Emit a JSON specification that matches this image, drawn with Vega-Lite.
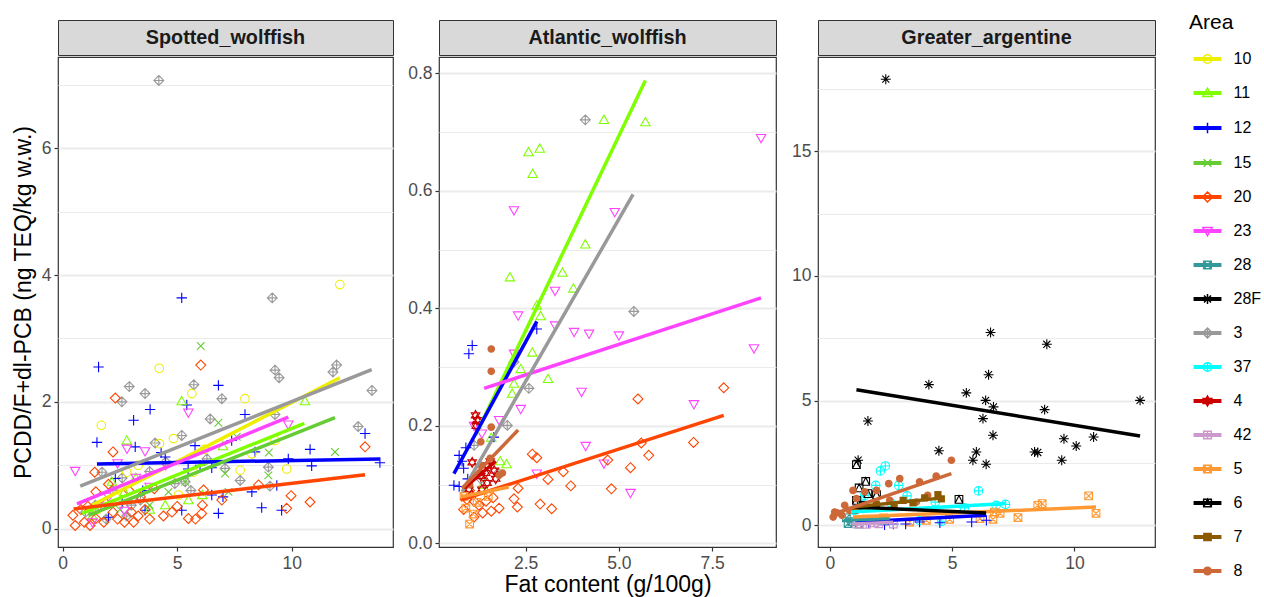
{
"$schema": "https://vega.github.io/schema/vega-lite/v6.json",
"background": "white",
"padding": {"left": 11, "top": 12, "right": 5, "bottom": 1},
"spacing": 10,
"resolve": {"scale": {"shape": "independent", "stroke": "independent", "fill": "independent"}},
"datasets": {
"p1": [
{"Area":"3","fat":4.2,"teq":7.07},{"Area":"3","fat":9.15,"teq":3.64},{"Area":"3","fat":11.96,"teq":2.58},{"Area":"3","fat":11.8,"teq":2.47},{"Area":"3","fat":9.27,"teq":2.5},{"Area":"3","fat":9.45,"teq":2.38},{"Area":"3","fat":13.5,"teq":2.18},{"Area":"3","fat":2.91,"teq":2.24},{"Area":"3","fat":3.6,"teq":2.13},{"Area":"3","fat":2.59,"teq":2.0},{"Area":"3","fat":5.73,"teq":2.27},{"Area":"3","fat":6.95,"teq":2.05},{"Area":"3","fat":6.44,"teq":1.73},{"Area":"3","fat":9.27,"teq":1.8},{"Area":"3","fat":12.9,"teq":1.61},{"Area":"3","fat":5.2,"teq":1.47},{"Area":"3","fat":4.04,"teq":1.35},{"Area":"3","fat":8.98,"teq":0.97},{"Area":"3","fat":7.75,"teq":0.76},{"Area":"3","fat":7.09,"teq":0.95},{"Area":"3","fat":4.9,"teq":0.71},{"Area":"3","fat":5.35,"teq":0.74},{"Area":"3","fat":9.05,"teq":0.67},{"Area":"3","fat":1.72,"teq":0.89},{"Area":"3","fat":1.0,"teq":0.26},{"Area":"3","fat":1.43,"teq":0.37},{"Area":"3","fat":3.0,"teq":0.37},{"Area":"3","fat":3.4,"teq":0.45},{"Area":"3","fat":2.2,"teq":0.6},{"Area":"3","fat":6.3,"teq":1.1},{"Area":"3","fat":5.6,"teq":0.6},{"Area":"3","fat":3.8,"teq":0.9},{"Area":"3","fat":2.6,"teq":0.8},{"Area":"3","fat":4.5,"teq":1.05},{"Area":"3","fat":1.9,"teq":0.15},{"Area":"3","fat":2.8,"teq":0.2},
{"Area":"12","fat":5.2,"teq":3.64},{"Area":"12","fat":1.57,"teq":2.55},{"Area":"12","fat":6.8,"teq":2.26},{"Area":"12","fat":5.42,"teq":1.95},{"Area":"12","fat":3.82,"teq":1.88},{"Area":"12","fat":3.1,"teq":1.71},{"Area":"12","fat":7.96,"teq":1.8},{"Area":"12","fat":1.5,"teq":1.36},{"Area":"12","fat":3.17,"teq":1.29},{"Area":"12","fat":10.8,"teq":1.25},{"Area":"12","fat":13.2,"teq":1.5},{"Area":"12","fat":13.85,"teq":1.04},{"Area":"12","fat":10.87,"teq":0.99},{"Area":"12","fat":9.85,"teq":1.1},{"Area":"12","fat":8.4,"teq":1.21},{"Area":"12","fat":7.38,"teq":1.39},{"Area":"12","fat":6.51,"teq":0.96},{"Area":"12","fat":2.3,"teq":0.79},{"Area":"12","fat":4.48,"teq":1.13},{"Area":"12","fat":8.26,"teq":0.58},{"Area":"12","fat":8.69,"teq":0.33},{"Area":"12","fat":9.56,"teq":0.29},{"Area":"12","fat":6.8,"teq":0.24},{"Area":"12","fat":5.2,"teq":0.29},{"Area":"12","fat":6.51,"teq":0.53},{"Area":"12","fat":9.35,"teq":0.68},{"Area":"12","fat":3.6,"teq":0.29},{"Area":"12","fat":2.0,"teq":0.18},{"Area":"12","fat":5.78,"teq":1.31},{"Area":"12","fat":5.48,"teq":0.94},{"Area":"12","fat":4.3,"teq":1.2},{"Area":"12","fat":6.0,"teq":1.0},{"Area":"12","fat":3.5,"teq":0.6},{"Area":"12","fat":2.6,"teq":0.4},{"Area":"12","fat":7.0,"teq":0.5},
{"Area":"10","fat":12.1,"teq":3.85},{"Area":"10","fat":4.22,"teq":2.53},{"Area":"10","fat":1.69,"teq":1.63},{"Area":"10","fat":5.64,"teq":2.13},{"Area":"10","fat":7.96,"teq":2.05},{"Area":"10","fat":4.84,"teq":1.42},{"Area":"10","fat":4.23,"teq":1.34},{"Area":"10","fat":7.75,"teq":0.92},{"Area":"10","fat":9.78,"teq":0.94},{"Area":"10","fat":8.26,"teq":1.18},{"Area":"10","fat":9.27,"teq":1.39},{"Area":"10","fat":2.8,"teq":0.89},{"Area":"10","fat":5.71,"teq":0.89},{"Area":"10","fat":5.06,"teq":0.53},{"Area":"10","fat":2.3,"teq":0.5},{"Area":"10","fat":3.3,"teq":1.0},{"Area":"10","fat":6.2,"teq":1.25},{"Area":"10","fat":1.5,"teq":0.3},
{"Area":"11","fat":5.2,"teq":2.01},{"Area":"11","fat":10.58,"teq":2.01},{"Area":"11","fat":2.8,"teq":1.39},{"Area":"11","fat":2.15,"teq":0.74},{"Area":"11","fat":4.48,"teq":0.37},{"Area":"11","fat":3.8,"teq":0.3},{"Area":"11","fat":5.49,"teq":0.45},{"Area":"11","fat":6.1,"teq":0.53},{"Area":"11","fat":2.7,"teq":0.58},{"Area":"11","fat":1.3,"teq":0.2},{"Area":"11","fat":7.0,"teq":1.3},{"Area":"11","fat":3.2,"teq":0.8},
{"Area":"15","fat":6.03,"teq":2.88},{"Area":"15","fat":6.8,"teq":1.67},{"Area":"15","fat":11.89,"teq":1.21},{"Area":"15","fat":7.09,"teq":0.87},{"Area":"15","fat":8.98,"teq":0.84},{"Area":"15","fat":7.24,"teq":0.58},{"Area":"15","fat":4.62,"teq":0.58},{"Area":"15","fat":3.8,"teq":0.37},{"Area":"15","fat":7.6,"teq":1.45},{"Area":"15","fat":5.35,"teq":0.74},{"Area":"15","fat":2.5,"teq":0.3},{"Area":"15","fat":9.0,"teq":1.2},
{"Area":"20","fat":6.03,"teq":2.58},{"Area":"20","fat":2.3,"teq":2.06},{"Area":"20","fat":2.2,"teq":1.21},{"Area":"20","fat":1.4,"teq":0.89},{"Area":"20","fat":13.2,"teq":1.29},{"Area":"20","fat":8.55,"teq":0.69},{"Area":"20","fat":9.97,"teq":0.52},{"Area":"20","fat":10.8,"teq":0.42},{"Area":"20","fat":9.78,"teq":0.32},{"Area":"20","fat":6.95,"teq":0.45},{"Area":"20","fat":6.15,"teq":0.61},{"Area":"20","fat":6.1,"teq":0.37},{"Area":"20","fat":5.49,"teq":0.16},{"Area":"20","fat":6.07,"teq":0.24},{"Area":"20","fat":4.77,"teq":0.26},{"Area":"20","fat":4.0,"teq":0.63},{"Area":"20","fat":1.45,"teq":0.58},{"Area":"20","fat":0.55,"teq":0.05},{"Area":"20","fat":0.45,"teq":0.21},{"Area":"20","fat":0.95,"teq":0.1},{"Area":"20","fat":1.45,"teq":0.16},{"Area":"20","fat":1.8,"teq":0.1},{"Area":"20","fat":2.2,"teq":0.26},{"Area":"20","fat":2.7,"teq":0.1},{"Area":"20","fat":3.1,"teq":0.1},{"Area":"20","fat":3.0,"teq":0.26},{"Area":"20","fat":3.6,"teq":0.3},{"Area":"20","fat":1.9,"teq":0.4},{"Area":"20","fat":3.4,"teq":0.5},{"Area":"20","fat":0.8,"teq":0.3},{"Area":"20","fat":1.2,"teq":0.05},{"Area":"20","fat":2.4,"teq":0.15},{"Area":"20","fat":4.4,"teq":0.2},{"Area":"20","fat":5.0,"teq":0.35},{"Area":"20","fat":5.8,"teq":0.15},{"Area":"20","fat":3.3,"teq":0.2},{"Area":"20","fat":2.0,"teq":0.7},{"Area":"20","fat":2.9,"teq":0.6},{"Area":"20","fat":1.1,"teq":0.35},{"Area":"20","fat":3.8,"teq":0.15},
{"Area":"23","fat":0.55,"teq":0.91},{"Area":"23","fat":5.49,"teq":1.83},{"Area":"23","fat":9.85,"teq":1.64},{"Area":"23","fat":2.81,"teq":1.26},{"Area":"23","fat":3.6,"teq":1.22},{"Area":"23","fat":2.4,"teq":1.03},{"Area":"23","fat":2.7,"teq":0.28},{"Area":"23","fat":1.3,"teq":0.1},{"Area":"23","fat":2.0,"teq":0.5},{"Area":"23","fat":3.8,"teq":0.66},{"Area":"23","fat":4.5,"teq":1.0},{"Area":"23","fat":1.6,"teq":0.35},{"Area":"23","fat":3.2,"teq":0.8}
],
"f1": [
{"Area":"10","fat":1.3,"teq":0.37,"fat_end":12.1,"teq_end":2.38},
{"Area":"11","fat":0.85,"teq":0.24,"fat_end":10.55,"teq_end":1.66},
{"Area":"12","fat":1.5,"teq":1.02,"fat_end":13.85,"teq_end":1.1},
{"Area":"15","fat":1.13,"teq":0.21,"fat_end":11.89,"teq_end":1.75},
{"Area":"20","fat":0.48,"teq":0.31,"fat_end":13.2,"teq_end":0.85},
{"Area":"23","fat":0.63,"teq":0.39,"fat_end":9.85,"teq_end":1.76},
{"Area":"3","fat":0.77,"teq":0.67,"fat_end":13.49,"teq_end":2.51}
],
"p2": [
{"Area":"11","fat":4.6,"teq":0.721},{"Area":"11","fat":5.71,"teq":0.717},{"Area":"11","fat":2.58,"teq":0.666},{"Area":"11","fat":2.88,"teq":0.672},{"Area":"11","fat":2.69,"teq":0.629},{"Area":"11","fat":4.1,"teq":0.509},{"Area":"11","fat":2.08,"teq":0.453},{"Area":"11","fat":3.49,"teq":0.461},{"Area":"11","fat":3.78,"teq":0.434},{"Area":"11","fat":2.8,"teq":0.405},{"Area":"11","fat":2.9,"teq":0.387},{"Area":"11","fat":2.68,"teq":0.325},{"Area":"11","fat":2.37,"teq":0.297},{"Area":"11","fat":2.19,"teq":0.272},{"Area":"11","fat":2.14,"teq":0.255},{"Area":"11","fat":3.1,"teq":0.28},{"Area":"11","fat":1.58,"teq":0.18},{"Area":"11","fat":1.99,"teq":0.135},{"Area":"11","fat":1.82,"teq":0.14},{"Area":"11","fat":1.35,"teq":0.1},
{"Area":"3","fat":4.1,"teq":0.721},{"Area":"3","fat":5.4,"teq":0.395},{"Area":"3","fat":2.59,"teq":0.264},{"Area":"3","fat":2.01,"teq":0.201},{"Area":"3","fat":2.19,"teq":0.309},{"Area":"3","fat":1.12,"teq":0.167},{"Area":"3","fat":1.77,"teq":0.12},{"Area":"3","fat":1.3,"teq":0.11},
{"Area":"12","fat":1.07,"teq":0.337},{"Area":"12","fat":0.98,"teq":0.323},{"Area":"12","fat":2.8,"teq":0.365},{"Area":"12","fat":1.65,"teq":0.181},{"Area":"12","fat":0.9,"teq":0.163},{"Area":"12","fat":0.72,"teq":0.15},{"Area":"12","fat":0.84,"teq":0.128},{"Area":"12","fat":0.58,"teq":0.099},{"Area":"12","fat":0.72,"teq":0.097},{"Area":"12","fat":0.8,"teq":0.14},{"Area":"12","fat":0.95,"teq":0.11},
{"Area":"23","fat":8.81,"teq":0.69},{"Area":"23","fat":2.19,"teq":0.567},{"Area":"23","fat":4.89,"teq":0.564},{"Area":"23","fat":3.29,"teq":0.43},{"Area":"23","fat":2.3,"teq":0.388},{"Area":"23","fat":3.29,"teq":0.371},{"Area":"23","fat":3.8,"teq":0.36},{"Area":"23","fat":4.2,"teq":0.357},{"Area":"23","fat":5.0,"teq":0.354},{"Area":"23","fat":8.62,"teq":0.332},{"Area":"23","fat":2.19,"teq":0.323},{"Area":"23","fat":4.0,"teq":0.258},{"Area":"23","fat":7.01,"teq":0.237},{"Area":"23","fat":2.37,"teq":0.229},{"Area":"23","fat":1.79,"teq":0.21},{"Area":"23","fat":4.11,"teq":0.166},{"Area":"23","fat":4.6,"teq":0.136},{"Area":"23","fat":2.8,"teq":0.119},{"Area":"23","fat":5.31,"teq":0.086},{"Area":"23","fat":1.12,"teq":0.2},{"Area":"23","fat":1.33,"teq":0.187},
{"Area":"20","fat":7.81,"teq":0.265},{"Area":"20","fat":5.51,"teq":0.246},{"Area":"20","fat":7.0,"teq":0.172},{"Area":"20","fat":5.6,"teq":0.171},{"Area":"20","fat":5.8,"teq":0.15},{"Area":"20","fat":5.31,"teq":0.129},{"Area":"20","fat":4.7,"teq":0.142},{"Area":"20","fat":4.8,"teq":0.093},{"Area":"20","fat":2.68,"teq":0.152},{"Area":"20","fat":2.8,"teq":0.146},{"Area":"20","fat":3.51,"teq":0.122},{"Area":"20","fat":3.1,"teq":0.109},{"Area":"20","fat":3.71,"teq":0.098},{"Area":"20","fat":2.3,"teq":0.094},{"Area":"20","fat":2.89,"teq":0.067},{"Area":"20","fat":3.2,"teq":0.059},{"Area":"20","fat":2.19,"teq":0.076},{"Area":"20","fat":2.28,"teq":0.062},{"Area":"20","fat":1.79,"teq":0.06},{"Area":"20","fat":1.58,"teq":0.055},{"Area":"20","fat":1.35,"teq":0.052},{"Area":"20","fat":1.12,"teq":0.045},{"Area":"20","fat":0.84,"teq":0.058},{"Area":"20","fat":0.93,"teq":0.075},{"Area":"20","fat":1.12,"teq":0.072},{"Area":"20","fat":1.44,"teq":0.072},{"Area":"20","fat":1.63,"teq":0.078},{"Area":"20","fat":1.0,"teq":0.09},{"Area":"20","fat":1.25,"teq":0.065},
{"Area":"4","fat":1.16,"teq":0.218},{"Area":"4","fat":1.2,"teq":0.21},{"Area":"4","fat":1.07,"teq":0.138},{"Area":"4","fat":1.47,"teq":0.133},{"Area":"4","fat":1.43,"teq":0.12},{"Area":"4","fat":1.66,"teq":0.124},{"Area":"4","fat":1.3,"teq":0.115},{"Area":"4","fat":1.7,"teq":0.11},{"Area":"4","fat":1.47,"teq":0.103},{"Area":"4","fat":0.98,"teq":0.092},{"Area":"4","fat":1.33,"teq":0.092},{"Area":"4","fat":1.18,"teq":0.2},{"Area":"4","fat":1.55,"teq":0.14},
{"Area":"5","fat":1.0,"teq":0.033},{"Area":"5","fat":0.9,"teq":0.06},{"Area":"5","fat":1.2,"teq":0.07},{"Area":"5","fat":1.5,"teq":0.08},{"Area":"5","fat":1.1,"teq":0.05},{"Area":"5","fat":0.85,"teq":0.08},
{"Area":"8","fat":1.58,"teq":0.331},{"Area":"8","fat":1.58,"teq":0.293},{"Area":"8","fat":1.58,"teq":0.198},{"Area":"8","fat":1.3,"teq":0.173},{"Area":"8","fat":1.88,"teq":0.12},{"Area":"8","fat":1.79,"teq":0.116},{"Area":"8","fat":1.3,"teq":0.133},{"Area":"8","fat":1.55,"teq":0.145},{"Area":"8","fat":1.0,"teq":0.1}
],
"f2": [
{"Area":"11","fat":1.16,"teq":0.184,"fat_end":5.71,"teq_end":0.788},
{"Area":"12","fat":0.58,"teq":0.119,"fat_end":2.8,"teq_end":0.378},
{"Area":"20","fat":0.76,"teq":0.074,"fat_end":7.81,"teq_end":0.218},
{"Area":"23","fat":1.39,"teq":0.264,"fat_end":8.81,"teq_end":0.418},
{"Area":"3","fat":0.8,"teq":0.088,"fat_end":5.38,"teq_end":0.594},
{"Area":"4","fat":0.85,"teq":0.094,"fat_end":1.7,"teq_end":0.14},
{"Area":"5","fat":0.76,"teq":0.079,"fat_end":2.05,"teq_end":0.096},
{"Area":"8","fat":0.8,"teq":0.094,"fat_end":2.3,"teq_end":0.193}
],
"p3": [
{"Area":"28F","fat":2.29,"teq":17.89},{"Area":"28F","fat":6.57,"teq":7.73},{"Area":"28F","fat":8.87,"teq":7.26},{"Area":"28F","fat":6.49,"teq":6.04},{"Area":"28F","fat":4.05,"teq":5.64},{"Area":"28F","fat":5.58,"teq":5.31},{"Area":"28F","fat":6.37,"teq":5.01},{"Area":"28F","fat":6.69,"teq":4.75},{"Area":"28F","fat":12.68,"teq":5.01},{"Area":"28F","fat":8.78,"teq":4.64},{"Area":"28F","fat":1.56,"teq":4.18},{"Area":"28F","fat":6.26,"teq":4.28},{"Area":"28F","fat":6.67,"teq":3.61},{"Area":"28F","fat":9.57,"teq":3.47},{"Area":"28F","fat":10.78,"teq":3.54},{"Area":"28F","fat":10.07,"teq":3.18},{"Area":"28F","fat":4.46,"teq":2.99},{"Area":"28F","fat":8.37,"teq":2.94},{"Area":"28F","fat":8.5,"teq":2.92},{"Area":"28F","fat":5.99,"teq":2.94},{"Area":"28F","fat":5.85,"teq":2.61},{"Area":"28F","fat":9.48,"teq":2.61},{"Area":"28F","fat":6.39,"teq":2.45},{"Area":"28F","fat":1.16,"teq":2.61},
{"Area":"8","fat":4.97,"teq":2.61},{"Area":"8","fat":4.35,"teq":1.97},{"Area":"8","fat":3.67,"teq":1.74},{"Area":"8","fat":2.86,"teq":1.87},{"Area":"8","fat":2.41,"teq":1.67},{"Area":"8","fat":1.91,"teq":1.4},{"Area":"8","fat":2.45,"teq":1.0},{"Area":"8","fat":0.95,"teq":1.4},{"Area":"8","fat":0.61,"teq":0.8},{"Area":"8","fat":0.2,"teq":0.53},{"Area":"8","fat":0.14,"teq":0.33},{"Area":"8","fat":0.5,"teq":0.4},{"Area":"8","fat":1.09,"teq":1.07},{"Area":"8","fat":1.43,"teq":1.34},{"Area":"8","fat":3.54,"teq":0.93},{"Area":"8","fat":4.0,"teq":1.2},{"Area":"8","fat":0.3,"teq":0.5},{"Area":"8","fat":0.8,"teq":0.6},
{"Area":"37","fat":2.27,"teq":2.38},{"Area":"37","fat":2.07,"teq":2.18},{"Area":"37","fat":6.08,"teq":1.38},{"Area":"37","fat":1.88,"teq":1.6},{"Area":"37","fat":2.82,"teq":1.6},{"Area":"37","fat":1.43,"teq":1.2},{"Area":"37","fat":3.16,"teq":1.18},{"Area":"37","fat":1.3,"teq":0.98},{"Area":"37","fat":4.31,"teq":0.93},{"Area":"37","fat":2.5,"teq":0.9},{"Area":"37","fat":7.18,"teq":0.84},{"Area":"37","fat":6.8,"teq":0.8},{"Area":"37","fat":4.58,"teq":0.16},{"Area":"37","fat":3.67,"teq":0.2},{"Area":"37","fat":1.0,"teq":0.6},{"Area":"37","fat":5.5,"teq":0.7},
{"Area":"5","fat":10.58,"teq":1.18},{"Area":"5","fat":10.88,"teq":0.48},{"Area":"5","fat":8.68,"teq":0.87},{"Area":"5","fat":8.5,"teq":0.8},{"Area":"5","fat":7.69,"teq":0.31},{"Area":"5","fat":6.67,"teq":0.24},{"Area":"5","fat":6.73,"teq":0.53},{"Area":"5","fat":6.96,"teq":0.48},{"Area":"5","fat":6.14,"teq":0.27},{"Area":"5","fat":4.9,"teq":0.24},{"Area":"5","fat":3.95,"teq":0.2},{"Area":"5","fat":3.27,"teq":0.13},{"Area":"5","fat":2.2,"teq":0.3},{"Area":"5","fat":1.5,"teq":0.25},
{"Area":"7","fat":4.42,"teq":1.23},{"Area":"7","fat":3.88,"teq":1.1},{"Area":"7","fat":4.56,"teq":1.06},{"Area":"7","fat":3.4,"teq":0.9},{"Area":"7","fat":2.63,"teq":0.8},{"Area":"7","fat":1.9,"teq":0.85},{"Area":"7","fat":1.03,"teq":0.6},{"Area":"7","fat":1.5,"teq":0.7},{"Area":"7","fat":3.0,"teq":1.0},
{"Area":"6","fat":1.09,"teq":2.43},{"Area":"6","fat":1.47,"teq":1.76},{"Area":"6","fat":1.2,"teq":1.5},{"Area":"6","fat":1.09,"teq":1.0},{"Area":"6","fat":1.91,"teq":1.23},{"Area":"6","fat":5.28,"teq":1.04},{"Area":"6","fat":1.56,"teq":1.27},{"Area":"6","fat":1.3,"teq":0.8},
{"Area":"12","fat":2.24,"teq":0.02},{"Area":"12","fat":2.6,"teq":0.05},{"Area":"12","fat":3.67,"teq":0.13},{"Area":"12","fat":5.8,"teq":0.13},{"Area":"12","fat":6.4,"teq":0.2},{"Area":"12","fat":1.6,"teq":0.1},{"Area":"12","fat":4.5,"teq":0.1},{"Area":"12","fat":3.1,"teq":0.05},
{"Area":"28","fat":0.75,"teq":0.07},{"Area":"28","fat":0.68,"teq":0.3},{"Area":"28","fat":1.2,"teq":0.05},{"Area":"28","fat":0.9,"teq":0.15},{"Area":"28","fat":2.2,"teq":0.2},
{"Area":"42","fat":1.1,"teq":0.05},{"Area":"42","fat":1.5,"teq":0.04},{"Area":"42","fat":2.0,"teq":0.06},{"Area":"42","fat":2.6,"teq":0.05},{"Area":"42","fat":1.8,"teq":0.1}
],
"f3": [
{"Area":"12","fat":1.09,"teq":0.13,"fat_end":6.39,"teq_end":0.4},
{"Area":"28","fat":0.61,"teq":0.2,"fat_end":2.45,"teq_end":0.27},
{"Area":"37","fat":0.87,"teq":0.53,"fat_end":7.21,"teq_end":0.87},
{"Area":"42","fat":1.0,"teq":0.05,"fat_end":2.6,"teq_end":0.12},
{"Area":"5","fat":0.95,"teq":0.33,"fat_end":10.88,"teq_end":0.73},
{"Area":"6","fat":1.02,"teq":0.73,"fat_end":6.39,"teq_end":0.49},
{"Area":"7","fat":0.95,"teq":0.73,"fat_end":4.63,"teq_end":1.1},
{"Area":"8","fat":0.2,"teq":0.47,"fat_end":4.97,"teq_end":2.07},
{"Area":"28F","fat":1.09,"teq":5.44,"fat_end":12.68,"teq_end":3.58}
]
},
"hconcat": [
{"spacing": 13, "hconcat": [
{"spacing": 0, "vconcat": [
 {"width": 335, "height": 35, "data": {"values": [{"sp": "Spotted_wolffish"}]}, "mark": {"type": "text", "fontSize": 19.8, "fontWeight": "bold", "color": "#1a1a1a", "align": "center", "baseline": "middle"}, "encoding": {"text": {"field": "sp", "type": "nominal"}}, "view": {"fill": "#d9d9d9", "stroke": "#333333"}},
 {"width": 335, "height": 490, "layer": [
  {"data": {"name": "p1"}, "mark": {"type": "point", "filled": false, "size": 81, "strokeWidth": 1.1, "opacity": 1},
   "encoding": {
    "x": {"field": "fat", "type": "quantitative", "scale": {"domain": [-0.2, 14.42], "nice": false, "zero": false}, "axis": {"values": [0, 5, 10], "format": "d", "title": null}},
    "y": {"field": "teq", "type": "quantitative", "scale": {"domain": [-0.29, 7.44], "nice": false, "zero": false}, "axis": {"title": "PCDD/F+dl-PCB (ng TEQ/kg w.w.)", "titlePadding": 6, "format": "d", "values": [0,1,2,3,4,5,6,7], "grid": true, "gridColor": "#ebebeb", "labelExpr": "datum.value % 2 === 0 ? datum.label : ''", "tickOpacity": {"condition": {"test": "datum.value % 2 === 0", "value": 1}, "value": 0}, "gridWidth": {"condition": {"test": "datum.value % 2 === 0", "value": 2}, "value": 1}}},
    "color": {"field": "Area", "type": "nominal", "legend": null,
      "scale": {"domain": ["10","11","12","15","20","23","28","28F","3","37","4","42","5","6","7","8"], "range": ["#EEEE00","#7FFF00","#0000FF","#66CC33","#FF4500","#FF44FF","#339999","#000000","#999999","#00FFFF","#CC0000","#CC99CC","#FF9933","#000000","#8B5A00","#CD6839"]}},
    "shape": {"field": "Area", "type": "nominal", "legend": null,
      "scale": {"domain": ["10","11","12","15","20","23","28","28F","3","37","4","42","5","6","7","8"], "range": [
       "M-0.95,0A0.95,0.95 0 1,0 0.95,0A0.95,0.95 0 1,0 -0.95,0Z",
       "M0,-1.05L1.05,0.8L-1.05,0.8Z",
       "M-1.15,0H1.15M0,-1.15V1.15",
       "M-0.85,-0.85L0.85,0.85M-0.85,0.85L0.85,-0.85",
       "M0,-1.1L1.1,0L0,1.1L-1.1,0Z",
       "M0,1.05L1.05,-0.8L-1.05,-0.8Z",
       "M-0.85,-0.85H0.85V0.85H-0.85ZM-0.85,-0.85L0.85,0.85M-0.85,0.85L0.85,-0.85",
       "M-1.1,0H1.1M0,-1.1V1.1M-0.78,-0.78L0.78,0.78M-0.78,0.78L0.78,-0.78",
       "M0,-1.1L1.1,0L0,1.1L-1.1,0ZM-1.1,0H1.1M0,-1.1V1.1",
       "M-0.95,0A0.95,0.95 0 1,0 0.95,0A0.95,0.95 0 1,0 -0.95,0ZM-0.95,0H0.95M0,-0.95V0.95",
       "M0,-1.1L0.95,0.55L-0.95,0.55ZM0,1.1L0.95,-0.55L-0.95,-0.55Z",
       "M-0.85,-0.85H0.85V0.85H-0.85ZM-0.85,0H0.85M0,-0.85V0.85",
       "M-0.85,-0.85H0.85V0.85H-0.85ZM-0.85,-0.85L0.85,0.85M-0.85,0.85L0.85,-0.85",
       "M-0.85,-0.85H0.85V0.85H-0.85ZM-0.85,0.85L0,-0.85L0.85,0.85",
       "M-0.8,-0.8H0.8V0.8H-0.8Z",
       "M-0.85,0A0.85,0.85 0 1,0 0.85,0A0.85,0.85 0 1,0 -0.85,0Z"]}}
   }},
  {"data": {"name": "f1"}, "mark": {"type": "rule", "strokeWidth": 3.5},
   "encoding": {
    "x": {"field": "fat", "type": "quantitative"}, "y": {"field": "teq", "type": "quantitative"},
    "x2": {"field": "fat_end"}, "y2": {"field": "teq_end"},
    "color": {"field": "Area", "type": "nominal", "legend": null}
   }}
 ]}
]},
{"spacing": 0, "vconcat": [
 {"width": 337, "height": 35, "data": {"values": [{"sp": "Atlantic_wolffish"}]}, "mark": {"type": "text", "fontSize": 19.8, "fontWeight": "bold", "color": "#1a1a1a", "align": "center", "baseline": "middle"}, "encoding": {"text": {"field": "sp", "type": "nominal"}}, "view": {"fill": "#d9d9d9", "stroke": "#333333"}},
 {"width": 337, "height": 490, "layer": [
  {"data": {"name": "p2"}, "transform": [{"filter": {"not": {"field": "Area", "oneOf": ["7", "8"]}}}], "mark": {"type": "point", "filled": false, "size": 81, "strokeWidth": 1.1, "opacity": 1},
   "encoding": {
    "x": {"field": "fat", "type": "quantitative", "scale": {"domain": [0.18, 9.21], "nice": false, "zero": false}, "axis": {"values": [2.5, 5, 7.5], "format": ".1f", "title": "Fat content (g/100g)", "titlePadding": 2}},
    "y": {"field": "teq", "type": "quantitative", "scale": {"domain": [-0.006, 0.828], "nice": false, "zero": false}, "axis": {"title": null, "format": ".1f", "values": [0,0.1,0.2,0.3,0.4,0.5,0.6,0.7,0.8], "grid": true, "gridColor": "#ebebeb", "labelExpr": "abs(datum.value*5 - round(datum.value*5)) < 0.01 ? datum.label : ''", "tickOpacity": {"condition": {"test": "abs(datum.value*5 - round(datum.value*5)) < 0.01", "value": 1}, "value": 0}, "gridWidth": {"condition": {"test": "abs(datum.value*5 - round(datum.value*5)) < 0.01", "value": 2}, "value": 1}}},
    "color": {"field": "Area", "type": "nominal", "legend": null},
    "shape": {"field": "Area", "type": "nominal", "legend": null}
   }},
  {"data": {"name": "p2"}, "transform": [{"filter": {"field": "Area", "equal": "8"}}], "mark": {"type": "point", "filled": true, "size": 81, "strokeWidth": 0, "opacity": 1, "color": "#CD6839", "shape": "M-0.85,0A0.85,0.85 0 1,0 0.85,0A0.85,0.85 0 1,0 -0.85,0Z"},
   "encoding": {
    "x": {"field": "fat", "type": "quantitative"}, "y": {"field": "teq", "type": "quantitative"}
   }},
  {"data": {"name": "f2"}, "mark": {"type": "rule", "strokeWidth": 3.5},
   "encoding": {
    "x": {"field": "fat", "type": "quantitative"}, "y": {"field": "teq", "type": "quantitative"},
    "x2": {"field": "fat_end"}, "y2": {"field": "teq_end"},
    "color": {"field": "Area", "type": "nominal", "legend": null}
   }}
 ]}
]},
{"spacing": 0, "vconcat": [
 {"width": 337, "height": 35, "data": {"values": [{"sp": "Greater_argentine"}]}, "mark": {"type": "text", "fontSize": 19.8, "fontWeight": "bold", "color": "#1a1a1a", "align": "center", "baseline": "middle"}, "encoding": {"text": {"field": "sp", "type": "nominal"}}, "view": {"fill": "#d9d9d9", "stroke": "#333333"}},
 {"width": 337, "height": 490, "layer": [
  {"data": {"name": "p3"}, "transform": [{"filter": {"not": {"field": "Area", "oneOf": ["7", "8"]}}}], "mark": {"type": "point", "filled": false, "size": 81, "strokeWidth": 1.1, "opacity": 1},
   "encoding": {
    "x": {"field": "fat", "type": "quantitative", "scale": {"domain": [-0.48, 13.29], "nice": false, "zero": false}, "axis": {"values": [0, 5, 10], "format": "d", "title": null}},
    "y": {"field": "teq", "type": "quantitative", "scale": {"domain": [-0.87, 18.78], "nice": false, "zero": false}, "axis": {"title": null, "values": [0,2.5,5,7.5,10,12.5,15,17.5], "grid": true, "gridColor": "#ebebeb", "labelExpr": "datum.value % 5 === 0 ? datum.label : ''", "tickOpacity": {"condition": {"test": "datum.value % 5 === 0", "value": 1}, "value": 0}, "gridWidth": {"condition": {"test": "datum.value % 5 === 0", "value": 2}, "value": 1}}},
    "color": {"field": "Area", "type": "nominal", "legend": null},
    "shape": {"field": "Area", "type": "nominal", "legend": null}
   }},
  {"data": {"name": "p3"}, "transform": [{"filter": {"field": "Area", "equal": "8"}}], "mark": {"type": "point", "filled": true, "size": 81, "strokeWidth": 0, "opacity": 1, "color": "#CD6839", "shape": "M-0.85,0A0.85,0.85 0 1,0 0.85,0A0.85,0.85 0 1,0 -0.85,0Z"},
   "encoding": {
    "x": {"field": "fat", "type": "quantitative"}, "y": {"field": "teq", "type": "quantitative"}
   }},
  {"data": {"name": "p3"}, "transform": [{"filter": {"field": "Area", "equal": "7"}}], "mark": {"type": "point", "filled": true, "size": 81, "strokeWidth": 0, "opacity": 1, "color": "#8B5A00", "shape": "M-0.8,-0.8H0.8V0.8H-0.8Z"},
   "encoding": {
    "x": {"field": "fat", "type": "quantitative"}, "y": {"field": "teq", "type": "quantitative"}
   }},
  {"data": {"name": "f3"}, "mark": {"type": "rule", "strokeWidth": 3.5},
   "encoding": {
    "x": {"field": "fat", "type": "quantitative"}, "y": {"field": "teq", "type": "quantitative"},
    "x2": {"field": "fat_end"}, "y2": {"field": "teq_end"},
    "color": {"field": "Area", "type": "nominal", "legend": null}
   }}
 ]}
]}
]},
{"width": 1, "height": 1, "view": {"stroke": null}, "data": {"name": "f1"},
 "mark": {"type": "point", "filled": false, "size": 81, "strokeWidth": 1.5, "opacity": 0, "clip": true},
 "encoding": {
  "x": {"field": "fat", "type": "quantitative", "axis": null},
  "y": {"field": "teq", "type": "quantitative", "axis": null},
  "stroke": {"field": "Area", "type": "nominal",
    "scale": {"domain": ["10","11","12","15","20","23","28","28F","3","37","4","42","5","6","7","8"], "range": ["#EEEE00","#7FFF00","#0000FF","#66CC33","#FF4500","#FF44FF","#339999","#000000","#999999","#00FFFF","#CC0000","#CC99CC","#FF9933","#000000","#8B5A00","#CD6839"]},
    "legend": {"title": "Area", "orient": "none", "legendX": 23, "legendY": -8}},
  "fill": {"field": "Area", "type": "nominal",
    "scale": {"domain": ["10","11","12","15","20","23","28","28F","3","37","4","42","5","6","7","8"], "range": ["transparent","transparent","transparent","transparent","transparent","transparent","transparent","transparent","transparent","transparent","transparent","transparent","transparent","transparent","#8B5A00","#CD6839"]},
    "legend": {"title": "Area", "orient": "none", "legendX": 23, "legendY": -8}},
  "shape": {"field": "Area", "type": "nominal",
    "scale": {"domain": ["10","11","12","15","20","23","28","28F","3","37","4","42","5","6","7","8"], "range": [
       "M-3.1,-0.3H3.1M-3.1,-0.15H3.1M-3.1,0H3.1M-3.1,0.15H3.1M-3.1,0.3H3.1M-0.95,0A0.95,0.95 0 1,0 0.95,0A0.95,0.95 0 1,0 -0.95,0Z",
       "M-3.1,-0.3H3.1M-3.1,-0.15H3.1M-3.1,0H3.1M-3.1,0.15H3.1M-3.1,0.3H3.1M0,-1.05L1.05,0.8L-1.05,0.8Z",
       "M-3.1,-0.3H3.1M-3.1,-0.15H3.1M-3.1,0H3.1M-3.1,0.15H3.1M-3.1,0.3H3.1M-1.15,0H1.15M0,-1.15V1.15",
       "M-3.1,-0.3H3.1M-3.1,-0.15H3.1M-3.1,0H3.1M-3.1,0.15H3.1M-3.1,0.3H3.1M-0.85,-0.85L0.85,0.85M-0.85,0.85L0.85,-0.85",
       "M-3.1,-0.3H3.1M-3.1,-0.15H3.1M-3.1,0H3.1M-3.1,0.15H3.1M-3.1,0.3H3.1M0,-1.1L1.1,0L0,1.1L-1.1,0Z",
       "M-3.1,-0.3H3.1M-3.1,-0.15H3.1M-3.1,0H3.1M-3.1,0.15H3.1M-3.1,0.3H3.1M0,1.05L1.05,-0.8L-1.05,-0.8Z",
       "M-3.1,-0.3H3.1M-3.1,-0.15H3.1M-3.1,0H3.1M-3.1,0.15H3.1M-3.1,0.3H3.1M-0.85,-0.85H0.85V0.85H-0.85ZM-0.85,-0.85L0.85,0.85M-0.85,0.85L0.85,-0.85",
       "M-3.1,-0.3H3.1M-3.1,-0.15H3.1M-3.1,0H3.1M-3.1,0.15H3.1M-3.1,0.3H3.1M-1.1,0H1.1M0,-1.1V1.1M-0.78,-0.78L0.78,0.78M-0.78,0.78L0.78,-0.78",
       "M-3.1,-0.3H3.1M-3.1,-0.15H3.1M-3.1,0H3.1M-3.1,0.15H3.1M-3.1,0.3H3.1M0,-1.1L1.1,0L0,1.1L-1.1,0ZM-1.1,0H1.1M0,-1.1V1.1",
       "M-3.1,-0.3H3.1M-3.1,-0.15H3.1M-3.1,0H3.1M-3.1,0.15H3.1M-3.1,0.3H3.1M-0.95,0A0.95,0.95 0 1,0 0.95,0A0.95,0.95 0 1,0 -0.95,0ZM-0.95,0H0.95M0,-0.95V0.95",
       "M-3.1,-0.3H3.1M-3.1,-0.15H3.1M-3.1,0H3.1M-3.1,0.15H3.1M-3.1,0.3H3.1M0,-1.1L0.95,0.55L-0.95,0.55ZM0,1.1L0.95,-0.55L-0.95,-0.55Z",
       "M-3.1,-0.3H3.1M-3.1,-0.15H3.1M-3.1,0H3.1M-3.1,0.15H3.1M-3.1,0.3H3.1M-0.85,-0.85H0.85V0.85H-0.85ZM-0.85,0H0.85M0,-0.85V0.85",
       "M-3.1,-0.3H3.1M-3.1,-0.15H3.1M-3.1,0H3.1M-3.1,0.15H3.1M-3.1,0.3H3.1M-0.85,-0.85H0.85V0.85H-0.85ZM-0.85,-0.85L0.85,0.85M-0.85,0.85L0.85,-0.85",
       "M-3.1,-0.3H3.1M-3.1,-0.15H3.1M-3.1,0H3.1M-3.1,0.15H3.1M-3.1,0.3H3.1M-0.85,-0.85H0.85V0.85H-0.85ZM-0.85,0.85L0,-0.85L0.85,0.85",
       "M-3.1,-0.3H3.1M-3.1,-0.15H3.1M-3.1,0H3.1M-3.1,0.15H3.1M-3.1,0.3H3.1M-0.8,-0.8H0.8V0.8H-0.8Z",
       "M-3.1,-0.3H3.1M-3.1,-0.15H3.1M-3.1,0H3.1M-3.1,0.15H3.1M-3.1,0.3H3.1M-0.85,0A0.85,0.85 0 1,0 0.85,0A0.85,0.85 0 1,0 -0.85,0Z"]},
    "legend": {"title": "Area", "orient": "none", "legendX": 23, "legendY": -8}}
 }}
],
"config": {
 "font": "Liberation Sans",
 "view": {"stroke": "#333333", "strokeWidth": 1.2},
 "axis": {"domain": false, "grid": false, "tickColor": "#333333", "tickSize": 4, "tickWidth": 1.2, "labelColor": "#4d4d4d", "labelFontSize": 17.5, "labelPadding": 3, "titleFontSize": 23, "titleFontWeight": "normal", "titleColor": "#000000", "titlePadding": 4},
 "legend": {"symbolSize": 81, "symbolOpacity": 1, "symbolStrokeWidth": 1.5, "labelFontSize": 16, "titleFontSize": 21, "titleFontWeight": "normal", "titleColor": "#000000", "labelColor": "#000000", "rowPadding": 18, "titlePadding": 18, "symbolOffset": 10.5, "labelOffset": 18, "padding": 0}
}
}
